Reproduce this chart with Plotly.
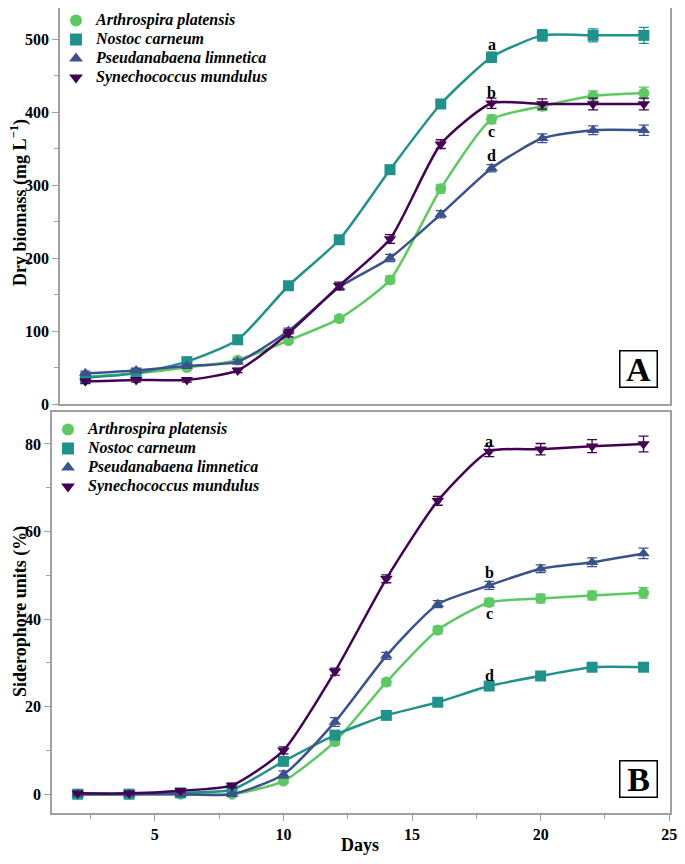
import plotly.graph_objects as go

days = [2, 4, 6, 8, 10, 12, 14, 16, 18, 20, 22, 24]
species = ["Arthrospira platensis", "Nostoc carneum",
           "Pseudanabaena limnetica", "Synechococcus mundulus"]
colors = ["#5ec962", "#21918c", "#3b528b", "#440154"]
symbols = ["circle", "square", "triangle-up", "triangle-down"]

# panel A - dry biomass (mg/L)
biomass = [
    [37, 42, 50, 60, 87, 117, 170, 295, 390, 408, 422, 426],
    [36, 42, 58, 88, 162, 225, 321, 411, 475, 505, 505, 505],
    [42, 46, 52, 58, 100, 160, 200, 260, 323, 364, 375, 375],
    [31, 33, 33, 46, 97, 162, 226, 356, 412, 411, 411, 411],
]
biomass_err = [
    [3, 3, 3, 3, 4, 4, 5, 6, 6, 6, 7, 8],
    [3, 3, 3, 4, 4, 4, 5, 6, 7, 8, 9, 11],
    [3, 3, 3, 3, 4, 4, 5, 5, 5, 6, 6, 7],
    [3, 3, 3, 3, 5, 5, 6, 6, 7, 7, 8, 8],
]

# panel B - siderophore units (%)
sidero = [
    [0, 0, 0, 0, 3, 12, 25.6, 37.5, 43.8, 44.7, 45.4, 46],
    [0, 0, 0.3, 1, 7.5, 13.5, 18, 21, 24.7, 27, 29, 29],
    [0, 0, 0, 0, 4.5, 16.5, 31.6, 43.4, 47.7, 51.5, 53, 55],
    [0.2, 0.2, 0.8, 2, 10, 28, 49.2, 67, 78.3, 78.8, 79.5, 80],
]
sidero_err = [
    [0.2, 0.2, 0.2, 0.2, 0.5, 0.8, 0.8, 0.8, 0.9, 1.0, 1.0, 1.2],
    [0.2, 0.2, 0.2, 0.3, 0.6, 0.8, 0.6, 0.6, 0.7, 0.7, 0.8, 0.8],
    [0.2, 0.2, 0.2, 0.2, 0.8, 1.0, 0.8, 0.8, 0.9, 0.9, 1.0, 1.2],
    [0.2, 0.2, 0.3, 0.5, 0.8, 0.8, 0.9, 1.0, 1.2, 1.3, 1.5, 1.8],
]

letters_a = ["a", "b", "c", "d"]
letters_a_y = [492, 427, 374, 341]
letters_b = ["a", "b", "c", "d"]
letters_b_y = [80.6, 50.7, 41.3, 27.2]

# the page body adds an 8px margin all round, so keep the figure inside the window
W, H = 677, 848
font = "Liberation Serif"
grey = "#a0a0a0"


def px(x):
    return x / W


def py(y):
    return 1 - y / H


fig = go.Figure()


def add_panel(values, errs, xa, ya, leg):
    for i, name in enumerate(species):
        fig.add_trace(go.Scatter(
            x=days, y=values[i], name=name, mode="lines+markers", showlegend=False,
            line=dict(color=colors[i], width=2.5, shape="spline", smoothing=0.6),
            marker=dict(symbol=symbols[i], size=11, color=colors[i]),
            error_y=dict(array=errs[i], color=colors[i], thickness=1.3, width=5),
            xaxis=xa, yaxis=ya,
        ))
    # marker-only legend entries
    for i, name in enumerate(species):
        fig.add_trace(go.Scatter(
            x=[None], y=[None], mode="markers",
            name='<span style="font-size:16px">%s</span>' % name,
            marker=dict(symbol=symbols[i], size=12, color=colors[i]),
            xaxis=xa, yaxis=ya, legend=leg,
        ))


add_panel(biomass, biomass_err, "x", "y", "legend")
add_panel(sidero, sidero_err, "x2", "y2", "legend2")

bold = dict(family=font, color="black", weight="bold")
ann = []
for t, yv in zip(letters_a, letters_a_y):
    ann.append(dict(x=18, y=yv, xref="x", yref="y", text=t, showarrow=False,
                    font=dict(size=16, **bold)))
for t, yv in zip(letters_b, letters_b_y):
    ann.append(dict(x=18, y=yv, xref="x2", yref="y2", text=t, showarrow=False,
                    font=dict(size=16, **bold)))
for lab, yc in [("A", 361), ("B", 771)]:
    ann.append(dict(x=px(630), y=py(yc), xref="paper", yref="paper",
                    xanchor="center", yanchor="middle",
                    text=lab, showarrow=False, width=34, height=33,
                    bordercolor="black", borderwidth=1.5, borderpad=1,
                    font=dict(size=34, **bold)))
for txt, yc, xc in [("Dry biomass (mg L<sup>\u22121</sup>)", 195, 11),
                    ("Siderophore units (%)", 604, 12)]:
    ann.append(dict(x=px(xc), y=py(yc), xref="paper", yref="paper",
                    xanchor="center", yanchor="middle",
                    text=txt, textangle=-90, showarrow=False,
                    font=dict(size=18, **bold)))
ann.append(dict(x=px(352), y=py(837), xref="paper", yref="paper",
                xanchor="center", yanchor="middle", text="Days", showarrow=False,
                font=dict(size=18, **bold)))

axis_common = dict(showline=True, linecolor=grey, linewidth=1.5, mirror=True,
                   ticklen=6, tickcolor=grey, tickwidth=1.2, automargin=False,
                   showgrid=False, zeroline=False, ticklabeloverflow="allow",
                   tickfont=dict(size=16, **bold))
minor_style = dict(ticks="outside", ticklen=4, tickcolor=grey, tickwidth=1.2)
legend_font = dict(family=font, size=12, color="black", weight="bold", style="italic")

fig.update_layout(
    width=W, height=H,
    margin=dict(l=0, r=0, t=0, b=0, autoexpand=False),
    paper_bgcolor="white", plot_bgcolor="white",
    font=dict(family=font, color="black"),
    xaxis=dict(domain=[px(52), px(662)], range=[1, 25.03], anchor="y",
               showticklabels=False, ticks="", **axis_common),
    yaxis=dict(domain=[py(396), 1], range=[0, 542.5], anchor="x",
               ticks="outside", dtick=100, minor=dict(dtick=50, **minor_style),
               **axis_common),
    xaxis2=dict(domain=[px(44), px(662)], range=[1, 25.03], anchor="y2",
                ticks="outside", dtick=5, minor=dict(dtick=2.5, **minor_style),
                **axis_common),
    yaxis2=dict(domain=[py(805), py(404)], range=[-4.3, 87.3], anchor="x2",
                ticks="outside", dtick=20, minor=dict(dtick=10, **minor_style),
                **axis_common),
    legend=dict(x=px(48), y=py(-2), xanchor="left", yanchor="top",
                bgcolor="rgba(0,0,0,0)", font=legend_font),
    legend2=dict(x=px(40), y=py(407), xanchor="left", yanchor="top",
                 bgcolor="rgba(0,0,0,0)", font=legend_font),
    annotations=ann,
)

fig.write_html("out.html")
